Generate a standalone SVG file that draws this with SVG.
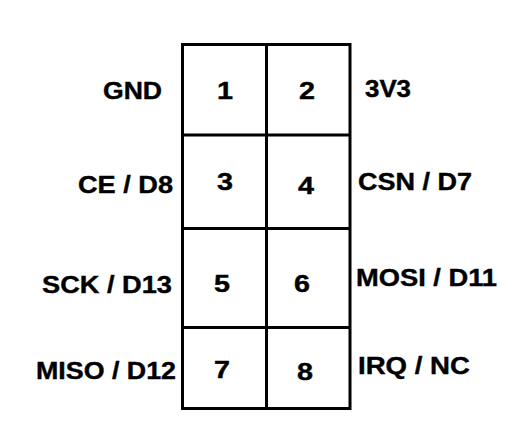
<svg xmlns="http://www.w3.org/2000/svg" width="507" height="429" viewBox="0 0 507 429">
<style>
.grid{fill:none;stroke:#000;stroke-width:3}
.t{font-family:"Liberation Sans",Arial,sans-serif;font-weight:bold;font-size:24px;fill:#000;stroke:#000;stroke-width:0.4}
.n{text-anchor:middle;font-size:24px}
.l{text-anchor:end}
</style>
<rect width="507" height="429" fill="#fff"/>
<g id="connectors">
<rect class="grid" x="182.5" y="44.5" width="167.5" height="364"/>
<line class="grid" x1="266.5" y1="44.5" x2="266.5" y2="408.5"/>
<line class="grid" x1="182.5" y1="135" x2="350" y2="135"/>
<line class="grid" x1="182.5" y1="228.5" x2="350" y2="228.5"/>
<line class="grid" x1="182.5" y1="327.5" x2="350" y2="327.5"/>
</g>
<g id="pin1"><text class="t n" x="225" y="99" textLength="16" lengthAdjust="spacingAndGlyphs">1</text><text class="t l" x="162" y="99" textLength="59" lengthAdjust="spacingAndGlyphs">GND</text></g>
<g id="pin2"><text class="t n" x="307" y="99" textLength="16" lengthAdjust="spacingAndGlyphs">2</text><text class="t" x="365" y="97" textLength="46" lengthAdjust="spacingAndGlyphs">3V3</text></g>
<g id="pin3"><text class="t n" x="225" y="190" textLength="16" lengthAdjust="spacingAndGlyphs">3</text><text class="t l" x="173" y="193" textLength="95" lengthAdjust="spacingAndGlyphs">CE / D8</text></g>
<g id="pin4"><text class="t n" x="306" y="194" textLength="16" lengthAdjust="spacingAndGlyphs">4</text><text class="t" x="358" y="190" textLength="114" lengthAdjust="spacingAndGlyphs">CSN / D7</text></g>
<g id="pin5"><text class="t n" x="222" y="292" textLength="16" lengthAdjust="spacingAndGlyphs">5</text><text class="t l" x="172" y="293" textLength="130" lengthAdjust="spacingAndGlyphs">SCK / D13</text></g>
<g id="pin6"><text class="t n" x="302" y="292" textLength="16" lengthAdjust="spacingAndGlyphs">6</text><text class="t" x="356" y="286" textLength="141" lengthAdjust="spacingAndGlyphs">MOSI / D11</text></g>
<g id="pin7"><text class="t n" x="222" y="378" textLength="16" lengthAdjust="spacingAndGlyphs">7</text><text class="t l" x="176" y="379" textLength="140" lengthAdjust="spacingAndGlyphs">MISO / D12</text></g>
<g id="pin8"><text class="t n" x="305" y="380" textLength="16" lengthAdjust="spacingAndGlyphs">8</text><text class="t" x="358" y="374" textLength="112" lengthAdjust="spacingAndGlyphs">IRQ / NC</text></g>
</svg>
